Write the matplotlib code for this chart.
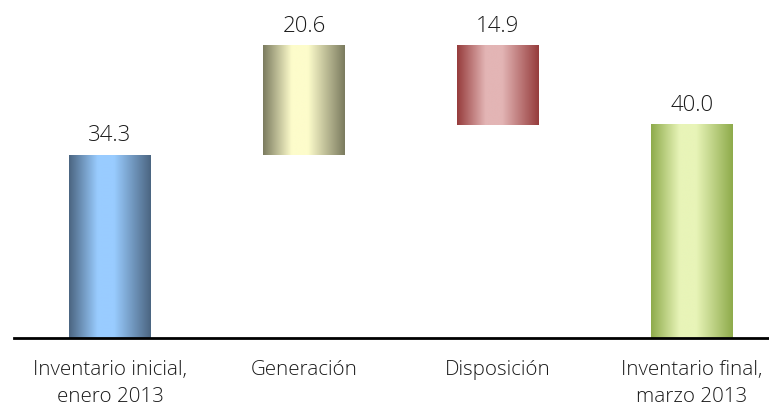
import numpy as np
import matplotlib
matplotlib.use("Agg")
import matplotlib.pyplot as plt
from matplotlib.colors import LinearSegmentedColormap

categories = ["Inventario inicial,\nenero 2013", "Generación", "Disposición", "Inventario final,\nmarzo 2013"]
values = [34.3, 20.6, -14.9, 40.0]
labels = ["34.3", "20.6", "14.9", "40.0"]
edge_colors = ["#4b6581", "#7b7b5f", "#963c3c", "#8eab4b"]
light_colors = ["#99ccff", "#fdfccb", "#e3b5b5", "#e8f4b8"]

plt.rcParams['font.family'] = ['Open Sans', 'DejaVu Sans']

fig = plt.figure(figsize=(7.69, 4.09), dpi=100)
ax = fig.add_axes([14/769, (409-338)/409, 755/769, (338-10)/409])

bottoms = []
tops = []
running = 0.0
for i, v in enumerate(values):
    if i == len(values) - 1:
        b, t = 0.0, v
    else:
        b, t = (running, running + v) if v >= 0 else (running + v, running)
        running += v
    bottoms.append(b)
    tops.append(t)

x = np.arange(len(categories))
width = 0.418
grad = np.linspace(0, 1, 256).reshape(1, -1)
for xi, b, t, ec, lc, lab in zip(x, bottoms, tops, edge_colors, light_colors, labels):
    cmap = LinearSegmentedColormap.from_list("g", [(0, ec), (0.35, lc), (0.55, lc), (1, ec)])
    ax.imshow(grad, cmap=cmap, aspect='auto', extent=(xi - width/2, xi + width/2, b, t),
              interpolation='bilinear', zorder=2)
    ax.text(xi, t + 1.6, lab, ha='center', va='bottom', fontsize=16, color='#1a1a1a',
            fontweight='light')

ax.set_xlim(-0.495, 3.397)
ax.set_ylim(0, 328/5.335)
ax.set_xticks(x)
ax.set_xticklabels(categories, fontsize=14.8, color='#1a1a1a', linespacing=1.45, fontweight='light')
ax.tick_params(axis='x', length=0, pad=16)
ax.set_yticks([])
for s in ['top', 'right', 'left']:
    ax.spines[s].set_visible(False)
ax.spines['bottom'].set_linewidth(2)
ax.spines['bottom'].set_color('black')

fig.savefig("out.png", dpi=100)
